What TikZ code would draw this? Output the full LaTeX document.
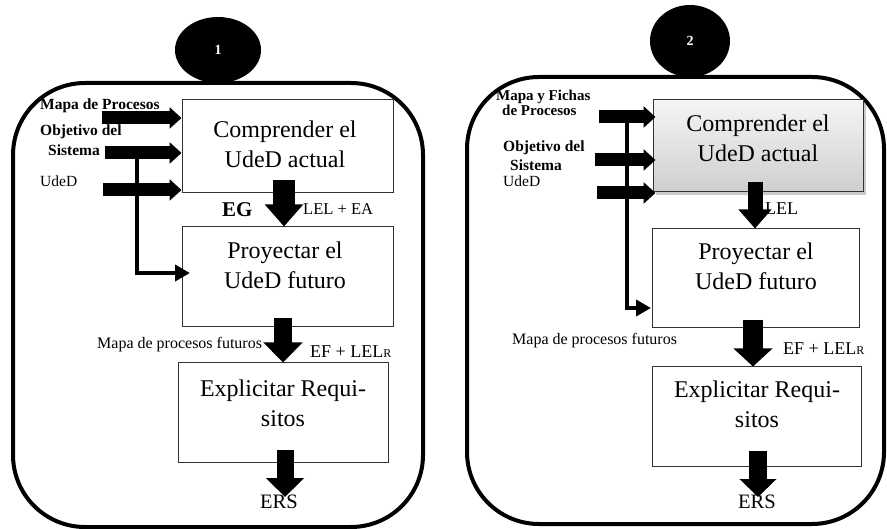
\documentclass[tikz,border=0pt]{standalone}
\usepackage{fontspec}
\setmainfont{Liberation Serif}
\usetikzlibrary{arrows.meta,shadows,shapes.geometric,calc}

\tikzset{
  frame/.style={draw=black, line width=4pt, rounded corners=72pt},
  badge/.style={ellipse, fill=black, inner sep=0pt, text=white,
    font=\fontsize{14}{14}\selectfont\bfseries},
  procbox/.style={draw=black!80, line width=1pt, fill=white, inner sep=0pt},
  graybox/.style={procbox, top color=gray!8, bottom color=gray!38,
    drop shadow={shadow xshift=3pt, shadow yshift=-3pt, fill=gray!70, opacity=0.6}},
  boxtext/.style={align=center, inner sep=0pt,
    font=\fontsize{24}{30}\selectfont},
  lbl/.style={anchor=base west, inner sep=0pt, font=\fontsize{15.5}{18}\selectfont},
  blbl/.style={lbl, font=\fontsize{15.5}{18}\selectfont\bfseries},
  sblbl/.style={lbl, font=\fontsize{15}{16}\selectfont\bfseries},
  inarrow/.style={line width=13pt, -{Triangle[length=12pt, width=21pt]}},
  thinarrow/.style={line width=4pt, -{Triangle[length=15pt, width=16pt]}},
}

\begin{document}
\begin{tikzpicture}[x=1pt, y=-1pt]
\useasboundingbox (0,0) rectangle (887,529);

% ---------------- Panel 1 ----------------
\draw[frame] (13,83) rectangle (423,527);
\node[badge, minimum width=86pt, minimum height=66pt] (n1) at (218,50) {1};

\node[procbox, minimum width=211pt, minimum height=93pt] (c1) at (287.5,146.5) {};
\node[procbox, minimum width=211pt, minimum height=100pt] (p1) at (287.5,277) {};
\node[procbox, minimum width=210pt, minimum height=100pt] (e1) at (283,413) {};
\node[boxtext] (c1t) at (285,144) {Comprender el\\UdeD actual};
\node[boxtext] (p1t) at (285,265) {Proyectar el\\UdeD futuro};
\node[boxtext] (e1t) at (283,403) {Explicitar Requi-\\sitos};

% inputs
\node[blbl] (l1a) at (40,110) {Mapa de Procesos};
\node[blbl] (l1b) at (40,136) {Objetivo del};
\node[blbl] (l1c) at (48,156) {Sistema};
\node[lbl] (l1d) at (40,187) {UdeD};
\coordinate (s1a) at (102,118);
\coordinate (s1b) at (105,153);
\coordinate (s1c) at (103,190);
\draw[inarrow] (s1a) -- (c1.west |- s1a);
\draw[inarrow] (s1b) -- (c1.west |- s1b);
\draw[inarrow] (s1c) -- (c1.west |- s1c);

% branch to the second step
\coordinate (v1) at (137,153);
\coordinate (v1e) at (190,273);
\draw[thinarrow] (v1) |- (v1e);

% flow between the steps
\coordinate (a1s) at (284,180);
\draw[line width=22pt, -{Triangle[length=22pt, width=37pt]}] (a1s) -- (a1s |- p1.north);
\coordinate (b1s) at (283,318);
\draw[line width=18pt, -{Triangle[length=20pt, width=38pt]}] (b1s) -- (b1s |- e1.north);
\coordinate (d1s) at (285,450);
\coordinate (d1e) at (285,497);
\draw[line width=17pt, -{Triangle[length=19pt, width=37pt]}] (d1s) -- (d1e);

\node[lbl, font=\fontsize{21}{24}\selectfont\bfseries] (eg1) at (222,217) {EG};
\node[lbl, font=\fontsize{16.5}{18}\selectfont] (le1) at (303,215) {LEL + EA};
\node[lbl, font=\fontsize{16}{18}\selectfont] (mf1) at (97,349) {Mapa de procesos futuros};
\node[lbl, font=\fontsize{18}{20}\selectfont] (ef1) at (310,358) {EF + LEL{\fontsize{12}{12}\selectfont R}};
\node[lbl, font=\fontsize{20.5}{22}\selectfont] (ers1) at (260,508) {ERS};

% ---------------- Panel 2 ----------------
\draw[frame] (467,77) rectangle (884,524);
\node[badge, minimum width=80pt, minimum height=72pt] (n2) at (690,41) {2};

\node[graybox, minimum width=210pt, minimum height=92pt] (c2) at (758,146) {};
\node[procbox, minimum width=207pt, minimum height=99pt] (p2) at (755.5,278.5) {};
\node[procbox, minimum width=209pt, minimum height=100pt] (e2) at (756.5,417) {};
\node[boxtext] (c2t) at (758,138) {Comprender el\\UdeD actual};
\node[boxtext] (p2t) at (756,266) {Proyectar el\\UdeD futuro};
\node[boxtext] (e2t) at (757,404) {Explicitar Requi-\\sitos};

% inputs
\node[sblbl] (l2a) at (496,101) {Mapa y Fichas};
\node[sblbl] (l2b) at (502,116) {de Procesos};
\node[blbl] (l2c) at (503,152) {Objetivo del};
\node[blbl] (l2d) at (510,171) {Sistema};
\node[lbl] (l2e) at (503,187) {UdeD};
\coordinate (s2a) at (599,117);
\coordinate (s2b) at (595,160);
\coordinate (s2c) at (597,193);
\draw[inarrow] (s2a) -- ([xshift=3pt]c2.west |- s2a);
\draw[inarrow] (s2b) -- ([xshift=3pt]c2.west |- s2b);
\draw[inarrow] (s2c) -- ([xshift=3pt]c2.west |- s2c);

% branch to the second step
\coordinate (v2) at (627,122);
\coordinate (v2e) at (651,308);
\draw[thinarrow] (v2) |- (v2e);

% flow between the steps
\coordinate (a2s) at (755,182);
\draw[line width=15pt, -{Triangle[length=19pt, width=32pt]}] (a2s) -- (a2s |- p2.north);
\coordinate (b2s) at (753,320);
\draw[line width=20pt, -{Triangle[length=18pt, width=38pt]}] (b2s) -- (b2s |- e2.north);
\coordinate (d2s) at (758,451);
\coordinate (d2e) at (758,497);
\draw[line width=18pt, -{Triangle[length=18pt, width=36pt]}] (d2s) -- (d2e);

\node[lbl, font=\fontsize{18}{20}\selectfont] (le2) at (765,215) {LEL};
\node[lbl, font=\fontsize{16}{18}\selectfont] (mf2) at (512,345) {Mapa de procesos futuros};
\node[lbl, font=\fontsize{18}{20}\selectfont] (ef2) at (783,355) {EF + LEL{\fontsize{12}{12}\selectfont R}};
\node[lbl, font=\fontsize{20.5}{22}\selectfont] (ers2) at (738,508) {ERS};
\end{tikzpicture}
\end{document}
